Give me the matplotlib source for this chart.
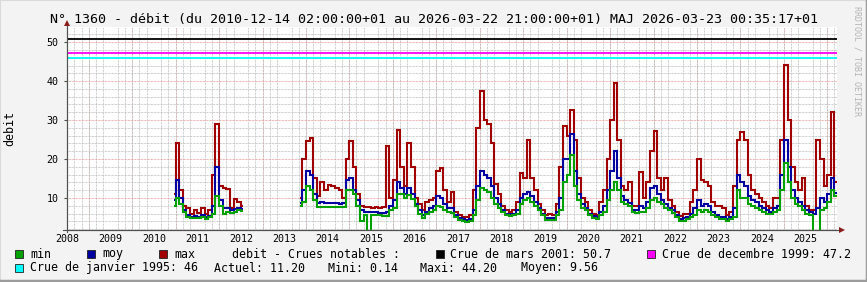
import matplotlib
matplotlib.use("Agg")
import matplotlib.pyplot as plt
import matplotlib.dates as mdates
from matplotlib.patches import Rectangle
import pandas as pd


W, H = 867, 282
MONO = "DejaVu Sans Mono"

# --- data (monthly min / moy / max of debit) ---
# segment 1: 2010-12-14 .. 2012-07
seg1_max = [11, 24, 12, 8, 7.3, 6, 7, 6.2, 7.5, 6, 7, 16, 29, 13, 12.5, 12.4, 7.5, 9.7, 9, 8]
seg1_moy = [9.5, 14.5, 10, 7, 5.5, 5.2, 5.3, 5.2, 5.5, 5, 5.3, 8, 18, 9.5, 7.5, 7.5, 6.8, 7.2, 7.5, 7.2]
seg1_min = [8, 10, 8.5, 6.5, 5, 4.8, 4.8, 4.8, 5, 4.7, 5, 6, 10.5, 8, 6, 6.3, 6.2, 6.4, 6.8, 6.6]

# segment 2: 2013-11 .. 2026-03
seg2_max = [
    10, 20,                                                    # 2013 nov-dec
    24.5, 25.3, 15, 10.5, 14, 12, 13.4, 13, 12.5, 12, 10, 20,  # 2014
    24.5, 18, 11, 7.9, 7.7, 7.7, 7.5, 7.8, 7.5, 7.8, 23.3, 10, # 2015
    14.5, 27.4, 18, 13, 24.1, 18, 10, 8.5, 7, 9, 9.5, 10,      # 2016
    17, 17.6, 12, 9, 11.5, 6.5, 5.5, 5, 5, 5.5, 12, 28,        # 2017
    37.5, 30, 29, 24, 13.5, 11, 8, 6.8, 6.5, 7, 9, 16.5,       # 2018
    15, 25, 15, 12, 8.5, 6.8, 5.5, 6, 5.5, 8.5, 18, 28.4,      # 2019
    26, 32.5, 25, 15, 10, 9, 7, 6, 5.5, 9, 12, 20,             # 2020
    30, 39.4, 25, 13, 12, 14, 8, 8, 16.6, 10, 14, 22,          # 2021
    27.2, 15, 12, 15, 9.5, 8, 6.5, 5.3, 5.8, 6, 9, 12,         # 2022
    20, 14.5, 14, 13, 9, 8, 8, 7.5, 5.5, 6.5, 13, 25,          # 2023
    27, 25, 16, 12, 11, 10, 9, 8, 7.5, 10, 10, 25,             # 2024
    44.2, 30, 18, 14, 12, 15, 8, 7, 7, 25, 20, 13,             # 2025
    16, 32, 14,                                                # 2026
]
seg2_moy = [
    8.7, 12,
    17, 16, 11, 8.7, 9, 8.7, 8.7, 8.7, 8.7, 8.5, 8.7, 14.5,
    15, 12, 9.5, 7, 6.5, 6.5, 6.3, 6.3, 6.2, 6.2, 6.5, 8,
    9.5, 14, 12.5, 11, 12.5, 11, 8.5, 7, 5.5, 6.5, 7.5, 8,
    10.5, 10, 8.5, 7.5, 7.5, 5.5, 4.8, 4.5, 4.3, 4.6, 7, 13,
    17, 16, 15, 13, 10, 8.5, 7, 6, 5.8, 6, 7, 10,
    11, 11.5, 10.5, 9, 7.5, 6, 4.8, 4.8, 4.8, 6.3, 10, 20,
    20, 26.5, 17, 11, 8.5, 7.5, 6, 5.3, 5, 6.5, 8, 12,
    17, 22, 15, 10.5, 9.5, 8.8, 7, 6.8, 8, 7.5, 9, 12.5,
    13, 11, 9.5, 8.5, 7.5, 6.8, 5.5, 4.6, 4.8, 5, 6, 7.5,
    9.5, 8, 8.5, 8, 6.5, 5.5, 5, 5, 4.7, 5, 7.5, 16,
    14, 13, 10.5, 9.5, 9, 8, 7.5, 7, 6.5, 7.5, 8, 16,
    25, 18, 12, 10, 9, 8, 7, 6.5, 6, 7.5, 10, 9,
    11, 15, 11.2,
]
seg2_min = [
    8, 9,
    13, 12, 9.5, 7.8, 7.8, 7.8, 7.8, 7.8, 7.8, 7.8, 7.8, 12,
    12, 11, 8, 4.2, 5.5, 0.3, 5.6, 5.6, 5.6, 5.3, 5.3, 7,
    7.5, 11, 11, 10, 10.7, 9.8, 8, 6, 4.9, 5.8, 6.5, 7,
    8, 7.8, 7, 6.5, 6.2, 5, 4.3, 4, 3.8, 4, 5.5, 9.5,
    12.5, 12, 11.5, 10, 8.5, 7.5, 6.5, 5.5, 5.3, 5.5, 6, 8.5,
    9.5, 10, 9, 8, 6.8, 5.5, 4.4, 4.3, 4.3, 5.5, 7, 14,
    16, 21, 13, 9.5, 7.5, 6.8, 5.5, 4.8, 4.6, 5.5, 6.5, 9.5,
    12, 14, 12, 9, 8.5, 8, 6.5, 6.2, 6.5, 6.5, 7.5, 9.5,
    10, 9, 8.5, 7.5, 6.8, 6.2, 5, 4.1, 4.2, 4.5, 5, 5.5,
    7, 6.5, 7, 6.5, 5.5, 5, 4.6, 4.5, 4.2, 4.5, 5, 12,
    10, 10, 8.5, 8, 7.5, 7, 6.5, 6, 5.8, 6.5, 7, 12,
    19, 14, 10, 8.5, 8, 7, 6, 5.5, 0.3, 0.3, 7, 7.5,
    9, 12, 10.5,
]

# notable floods (HRULE)
crues_labels = ["Crue de mars 2001", "Crue de decembre 1999", "Crue de janvier 1995"]
crues_values = [50.7, 47.2, 46]
crues_colors = ["#000000", "#ff00ff", "#00ffff"]

stats_labels = ["Actuel", "Mini", "Maxi", "Moyen"]
stats_values = [11.20, 0.14, 44.20, 9.56]

year_labels = list(range(2008, 2026))

COL_MIN, COL_MOY, COL_MAX = "#00a000", "#0000a0", "#a00000"
GRID_MINOR = "#bdbdbd"
GRID_MAJOR = "#e89a9a"
AXIS_COL = "#505050"
ARROW_COL = "#8b1c1c"


def to_num(s):
    return mdates.date2num(pd.Timestamp(s).to_pydatetime())


def month_edges(first_day, first_month, last_month, last_day):
    starts = pd.date_range(first_month, last_month, freq="MS")
    edges = [pd.Timestamp(first_day)] + list(starts) + [pd.Timestamp(last_day)]
    return mdates.date2num([e.to_pydatetime() for e in edges])


def fx(px):
    return px / W


def fy(py):
    return 1 - py / H


seg1_edges = month_edges("2010-12-14", "2011-01-01", "2012-07-01", "2012-07-20")
seg2_edges = month_edges("2013-11-10", "2013-12-01", "2026-03-01", "2026-03-22 21:00")

fig = plt.figure(figsize=(W / 100, H / 100), dpi=100)
fig.patch.set_facecolor("#f3f3f3")

ax = fig.add_axes([fx(67), fy(229.5), 770 / W, 202.5 / H])
ax.set_facecolor("white")
ax.set_xlim(to_num("2008-07-01"), to_num("2026-03-22 21:00"))
ax.set_ylim(1.9, 53.9)

# grid: minor grey every 2 months / 2 units, major red every year / 10 units
dots = (0, (0.72, 0.72))
ax.xaxis.set_minor_locator(mdates.MonthLocator(bymonth=(1, 3, 5, 7, 9, 11)))
ax.yaxis.set_minor_locator(plt.MultipleLocator(2))
ax.yaxis.set_major_locator(plt.MultipleLocator(10))
ax.grid(which="minor", color=GRID_MINOR, lw=0.72, ls=dots, zorder=0)
ax.grid(which="major", axis="y", color=GRID_MAJOR, lw=0.72, ls=dots, zorder=0)
for year in range(2009, 2027):
    ax.axvline(to_num(f"{year}-01-01"), color=GRID_MAJOR, lw=0.72, ls=dots, zorder=0.5)

# year labels centred in the year
ax.xaxis.set_major_locator(plt.FixedLocator([to_num(f"{y}-07-01") for y in year_labels]))
ax.xaxis.set_major_formatter(plt.FixedFormatter([str(y) for y in year_labels]))
ax.tick_params(axis="x", which="major", length=0, pad=3, labelsize=7.2)
ax.tick_params(axis="x", which="minor", length=0)
ax.tick_params(axis="y", which="major", length=2, width=0.8, color=AXIS_COL,
               pad=4, labelsize=7.2)
ax.tick_params(axis="y", which="minor", length=0)
for lab in ax.get_xticklabels() + ax.get_yticklabels():
    lab.set_fontfamily(MONO)

for val, col in zip(crues_values, crues_colors):
    ax.axhline(val, color=col, lw=1.3, zorder=2)

# max first, then moy, min on top
for edges, vals, col in [
    (seg1_edges, seg1_max, COL_MAX), (seg2_edges, seg2_max, COL_MAX),
    (seg1_edges, seg1_moy, COL_MOY), (seg2_edges, seg2_moy, COL_MOY),
    (seg1_edges, seg1_min, COL_MIN), (seg2_edges, seg2_min, COL_MIN),
]:
    ax.stairs(vals, edges, baseline=None, color=col, lw=1.5, zorder=3)

for side in ("top", "right"):
    ax.spines[side].set_visible(False)
for side in ("left", "bottom"):
    ax.spines[side].set_color(AXIS_COL)
    ax.spines[side].set_linewidth(0.8)
    ax.spines[side].set_zorder(4)

# axis arrows
fig.add_artist(plt.Line2D([fx(67), fx(67)], [fy(232), fy(24)], color=AXIS_COL, lw=0.8))
fig.add_artist(plt.Line2D([fx(63), fx(842)], [fy(229.5), fy(229.5)], color=AXIS_COL, lw=0.8))
fig.add_artist(plt.Line2D([fx(67)], [fy(23)], marker="^", ms=4.5, color=ARROW_COL, mew=0))
fig.add_artist(plt.Line2D([fx(842)], [fy(229.5)], marker=">", ms=4.5, color=ARROW_COL, mew=0))

fig.text(fx(433.5), fy(19.5),
         "N° 1360 - débit (du 2010-12-14 02:00:00+01 au 2026-03-22 21:00:00+01) "
         "MAJ 2026-03-23 00:35:17+01",
         family=MONO, fontsize=9.6, ha="center", va="center")
fig.text(fx(10), fy(128), "debit", family=MONO, fontsize=8.4, rotation=90,
         ha="center", va="center")
fig.text(fx(857), fy(6), "RRDTOOL / TOBI OETIKER", family=MONO, fontsize=6,
         rotation=270, ha="center", va="top", color="#b4b4b4")


def legend_box(x, y, color):
    fig.add_artist(Rectangle((fx(x), fy(y + 4)), 8 / W, 8 / H, facecolor=color,
                             edgecolor="#202020", lw=0.6, transform=fig.transFigure))


def legend_text(x, y, s):
    fig.text(fx(x), fy(y), s, family=MONO, fontsize=8.4, ha="left", va="center")


row1, row2 = 254, 268
legend_box(15, row1, COL_MIN)
legend_text(30, row1, "min")
legend_box(87, row1, COL_MOY)
legend_text(102, row1, "moy")
legend_box(159, row1, COL_MAX)
legend_text(174, row1, "max")
legend_text(232, row1, "debit - Crues notables :")
legend_box(436, row1, crues_colors[0])
legend_text(450, row1, f"{crues_labels[0]}: {crues_values[0]}")
legend_box(647, row1, crues_colors[1])
legend_text(662, row1, f"{crues_labels[1]}: {crues_values[1]}")
legend_box(15, row2, crues_colors[2])
legend_text(30, row2, f"{crues_labels[2]}: {crues_values[2]:g}")
for xpos, lab, val in zip([214, 328, 420, 521], stats_labels, stats_values):
    legend_text(xpos, row2, f"{lab}: {val:.2f}")

# 3D frame of the canvas
fig.add_artist(plt.Line2D([0, 0, 1], [0, 1, 1], color="#dadada", lw=1.5,
                          transform=fig.transFigure))
fig.add_artist(plt.Line2D([0, 1, 1], [0.003, 0.003, 1], color="#9c9c9c", lw=2.5,
                          transform=fig.transFigure))

fig.savefig("out.png", dpi=100, facecolor=fig.get_facecolor())
